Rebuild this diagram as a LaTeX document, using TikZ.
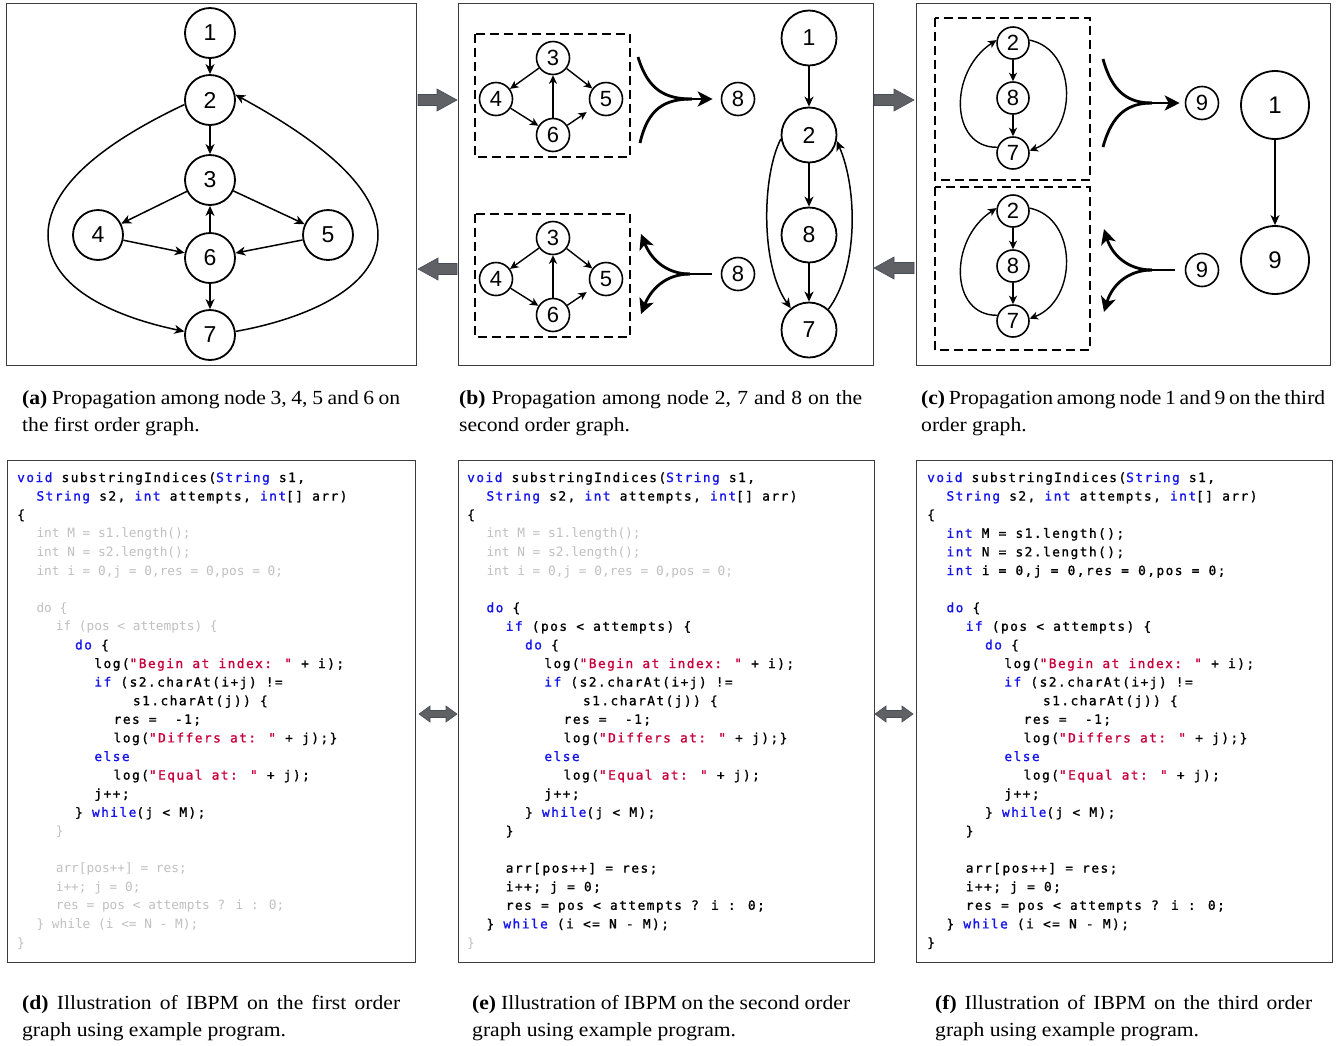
\documentclass[tikz,border=0pt]{standalone}
\usepackage{fontspec}
\setmainfont{Liberation Serif}
\newfontfamily\capfont[FakeStretch=1.08]{Liberation Serif}
\newfontfamily\digitfont{Liberation Sans}
\newfontfamily\cfN[LetterSpace=11.5,FakeBold=1.2]{DejaVu Sans Mono}
\newfontfamily\cfF{DejaVu Sans Mono}
\usetikzlibrary{arrows.meta}
\definecolor{kwblue}{RGB}{20,20,235}
\definecolor{strred}{RGB}{200,0,60}
\definecolor{fadegray}{RGB}{192,192,192}
\definecolor{arrgray}{RGB}{95,97,100}
\definecolor{arredge}{RGB}{70,76,88}
\definecolor{framecol}{RGB}{60,60,60}
\newif\iffaded
\newcommand\kw[1]{\iffaded#1\else\textcolor{kwblue}{#1}\fi}
\newcommand\st[1]{\iffaded#1\else\textcolor{strred}{#1}\fi}
\newcommand\NN{\fadedfalse\cfN\color{black}}
\newcommand\FF{\fadedtrue\cfF\color{fadegray}}
\newdimen\indentunit \indentunit=19.3pt
\newcommand\IN[1]{\hspace*{#1\indentunit}}
\newcommand\codetext[3]{%
{\NN\kw{void} substringIndices(\kw{String} s1,}\\
{\NN\IN{1}\kw{String} s2, \kw{int} attempts, \kw{int}[] arr)}\\
{\NN\{}\\
{#1\IN{1}\kw{int} M = s1.length();}\\
{#1\IN{1}\kw{int} N = s2.length();}\\
{#1\IN{1}\kw{int} i = 0,j = 0,res = 0,pos = 0;}\\
\mbox{}\\
{#2\IN{1}\kw{do} \{}\\
{#2\IN{2}\kw{if} (pos < attempts) \{}\\
{\NN\IN{3}\kw{do} \{}\\
{\NN\IN{4}log(\st{"Begin at index: "} + i);}\\
{\NN\IN{4}\kw{if} (s2.charAt(i+j) !=}\\
{\NN\IN{6}s1.charAt(j)) \{}\\
{\NN\IN{5}res =\ \ -1;}\\
{\NN\IN{5}log(\st{"Differs at: "} + j);\}}\\
{\NN\IN{4}\kw{else}}\\
{\NN\IN{5}log(\st{"Equal at: "} + j);}\\
{\NN\IN{4}j++;}\\
{\NN\IN{3}\} \kw{while}(j < M);}\\
{#2\IN{2}\}}\\
\mbox{}\\
{#2\IN{2}arr[pos++] = res;}\\
{#2\IN{2}i++; j = 0;}\\
{#2\IN{2}res = pos < attempts ? i : 0;}\\
{#2\IN{1}\} \kw{while} (i <= N - M);}\\
{#3\}}}
\newcommand\blkR[3]{\filldraw[blockarr] (#1,{#3-5.5}) -- ({#2-20},{#3-5.5}) -- ({#2-20},{#3-11}) -- (#2,#3) -- ({#2-20},{#3+11}) -- ({#2-20},{#3+5.5}) -- (#1,{#3+5.5}) -- cycle;}
\newcommand\blkL[3]{\filldraw[blockarr] (#2,{#3-5.5}) -- ({#1+20},{#3-5.5}) -- ({#1+20},{#3-11}) -- (#1,#3) -- ({#1+20},{#3+11}) -- ({#1+20},{#3+5.5}) -- (#2,{#3+5.5}) -- cycle;}
\newcommand\blkD[3]{\filldraw[blockarr] (#1,#3) -- ({#1+11},{#3-8}) -- ({#1+11},{#3-3.5}) -- ({#2-11},{#3-3.5}) -- ({#2-11},{#3-8}) -- (#2,#3) -- ({#2-11},{#3+8}) -- ({#2-11},{#3+3.5}) -- ({#1+11},{#3+3.5}) -- ({#1+11},{#3+8}) -- cycle;}
\begin{document}
\begin{tikzpicture}[x=1pt,y=-1pt,
  gn/.style={circle, draw, line width=1.8pt, minimum size=50pt, inner sep=0pt, font=\digitfont\fontsize{23}{23}\selectfont},
  sn/.style={gn, line width=1.6pt, minimum size=33pt, font=\digitfont\fontsize{22}{22}\selectfont},
  edge/.style={line width=1.5pt, -{Stealth[length=10pt,width=9pt,inset=3pt]}},
  sedge/.style={line width=1.4pt, -{Stealth[length=8.5pt,width=8pt,inset=2.5pt]}},
  mline/.style={line width=2.8pt},
  bigarr/.style={line width=2.8pt, -{Stealth[length=15pt,width=15pt,inset=4pt]}},
  dbox/.style={draw, line width=2.8pt, dash pattern=on 9pt off 5pt},
  panel/.style={draw=framecol, line width=1pt},
  blockarr/.style={fill=arrgray, draw=arredge, line width=0.6pt},
  captxt/.style={inner sep=0pt, anchor=base west, font=\capfont\fontsize{20}{24}\selectfont},
  codebox/.style={inner sep=0pt, align=left, anchor=base west, font=\fontsize{12.8}{18.6}\selectfont}]
\fill[white] (0,0) rectangle (1341,1045);
\useasboundingbox (0,0) rectangle (1341,1045);
% panel frames
\draw[panel] (6,3) rectangle (416,365);
\draw[panel] (458,3) rectangle (873,365);
\draw[panel] (916,3) rectangle (1330,365);
\draw[panel] (7,460) rectangle (415,962);
\draw[panel] (458,460) rectangle (874,962);
\draw[panel] (916,460) rectangle (1332,962);
% block arrows
\blkR{418}{457}{100}
\blkR{874}{914}{100}
\blkL{418}{457}{269}
\blkL{874}{914}{268}
\blkD{419}{457}{714}
\blkD{875}{913}{714}
% ---------- panel (a)
\node[gn] (a1) at (210,33) {1};
\node[gn] (a2) at (210,100) {2};
\node[gn] (a3) at (210,180) {3};
\node[gn] (a4) at (98,235) {4};
\node[gn] (a5) at (328,235) {5};
\node[gn] (a6) at (210,258) {6};
\node[gn] (a7) at (210,335) {7};
\coordinate (aL) at (48,235);
\coordinate (aR) at (378,235);
\draw[edge] (a1) -- (a2);
\draw[edge] (a2) -- (a3);
\draw[edge] (a3) -- (a4);
\draw[edge] (a3) -- (a5);
\draw[edge] (a4) -- (a6);
\draw[edge] (a5) -- (a6);
\draw[edge] (a6) -- (a3);
\draw[edge] (a6) -- (a7);
\draw[edge] (a2.190) .. controls (120,135) and (48,180) .. (aL) .. controls (48,290) and (120,318) .. (a7.172);
\draw[edge] (a7.8) .. controls (300,320) and (378,290) .. (aR) .. controls (378,180) and (300,130) .. (a2.12);
% ---------- panel (b)
\foreach \s/\dy in {t/0,b/180}{
\begin{scope}[shift={(0,\dy)}]
\draw[dbox] (475,34) rectangle (630,157);
\node[sn] (b3\s) at (553,58) {3};
\node[sn] (b4\s) at (496,99) {4};
\node[sn] (b5\s) at (606,99) {5};
\node[sn] (b6\s) at (553,135) {6};
\draw[sedge] (b3\s) -- (b4\s);
\draw[sedge] (b3\s) -- (b5\s);
\draw[sedge] (b4\s) -- (b6\s);
\draw[sedge] (b6\s) -- (b3\s);
\draw[sedge, shorten >=6pt] (b6\s) -- (b5\s);
\end{scope}}
\node[sn] (b8m) at (738,99) {8};
\node[sn] (b8n) at (738,274) {8};
\coordinate (bU1) at (638,57);
\coordinate (bL1) at (640,143);
\coordinate (bJ1) at (692,99);
\draw[mline] (bU1) .. controls (648,90) and (665,99) .. (bJ1);
\draw[mline] (bL1) .. controls (648,108) and (665,99) .. (bJ1);
\draw[bigarr, shorten >=8pt] (bJ1) -- (b8m);
\coordinate (bJ2) at (690,274);
\coordinate (bU2) at (641,234);
\coordinate (bL2) at (641,314);
\draw[mline, shorten <=9pt] (b8n) -- (bJ2);
\draw[bigarr] (bJ2) .. controls (666,274) and (651,259) .. (bU2);
\draw[bigarr] (bJ2) .. controls (666,274) and (651,289) .. (bL2);
\node[gn, minimum size=55pt] (b1) at (809,38) {1};
\node[gn, minimum size=55pt] (b2) at (809,135) {2};
\node[gn, minimum size=55pt] (b8) at (809,235) {8};
\node[gn, minimum size=55pt] (b7) at (809,330) {7};
\draw[edge] (b1) -- (b2);
\draw[edge] (b2) -- (b8);
\draw[edge] (b8) -- (b7);
\draw[edge] (b2.188) .. controls (762,175) and (760,265) .. (b7.130);
\draw[edge] (b7.47) .. controls (858,270) and (858,190) .. (b2.-12);
% ---------- panel (c)
\draw[dbox] (935,18) rectangle (1090,180);
\draw[dbox] (935,187) rectangle (1090,350);
\foreach \s/\dy in {t/0,b/168}{
\begin{scope}[shift={(0,\dy)}]
\node[sn, minimum size=32pt] (c2\s) at (1013,43) {2};
\node[sn, minimum size=32pt] (c8\s) at (1013,98) {8};
\node[sn, minimum size=32pt] (c7\s) at (1013,153) {7};
\draw[sedge] (c2\s) -- (c8\s);
\draw[sedge] (c8\s) -- (c7\s);
\draw[sedge] (c7\s.160) .. controls (950,148) and (948,72) .. (c2\s.170);
\draw[sedge] (c2\s.10) .. controls (1078,50) and (1078,132) .. (c7\s.8);
\end{scope}}
\node[sn] (c9m) at (1202,103) {9};
\node[sn] (c9n) at (1202,270) {9};
\coordinate (cU1) at (1103,59);
\coordinate (cL1) at (1103,147);
\coordinate (cJ1) at (1152,103);
\draw[mline] (cU1) .. controls (1112,92) and (1128,103) .. (cJ1);
\draw[mline] (cL1) .. controls (1112,114) and (1128,103) .. (cJ1);
\draw[bigarr, shorten >=5pt] (cJ1) -- (c9m);
\coordinate (cJ2) at (1152,270);
\coordinate (cU2) at (1104,229);
\coordinate (cL2) at (1104,312);
\draw[mline, shorten <=10pt] (c9n) -- (cJ2);
\draw[bigarr] (cJ2) .. controls (1128,270) and (1112,255) .. (cU2);
\draw[bigarr] (cJ2) .. controls (1128,270) and (1112,285) .. (cL2);
\node[gn, minimum size=68pt, font=\digitfont\fontsize{24}{24}\selectfont] (c1) at (1275,105) {1};
\node[gn, minimum size=68pt, font=\digitfont\fontsize{24}{24}\selectfont] (c9) at (1275,260) {9};
\draw[edge] (c1) -- (c9);
% ---------- captions top
\node[captxt] (capa1) at (22,404) {\makebox[378pt][s]{\textbf{(a)} Propagation among node 3, 4, 5 and 6 on}};
\node[captxt] (capa2) at (22,431) {the first order graph.};
\node[captxt] (capb1) at (459,404) {\makebox[403pt][s]{\textbf{(b)} Propagation among node 2, 7 and 8 on the}};
\node[captxt] (capb2) at (459,431) {second order graph.};
\node[captxt] (capc1) at (921,404) {\makebox[404pt][s]{\textbf{(c)} Propagation among node 1 and 9 on the third}};
\node[captxt] (capc2) at (921,431) {order graph.};
% ---------- code panels (anchored at the baseline of the last line)
\node[codebox] (coded) at (17,947) {\codetext{\FF}{\FF}{\FF}};
\node[codebox] (codee) at (467,947) {\codetext{\FF}{\NN}{\FF}};
\node[codebox] (codef) at (927,947) {\codetext{\NN}{\NN}{\NN}};
% ---------- captions bottom
\node[captxt] (capd1) at (22,1009) {\makebox[378pt][s]{\textbf{(d)} Illustration of IBPM on the first order}};
\node[captxt] (capd2) at (22,1036) {graph using example program.};
\node[captxt] (cape1) at (472,1009) {\makebox[378pt][s]{\textbf{(e)} Illustration of IBPM on the second order}};
\node[captxt] (cape2) at (472,1036) {graph using example program.};
\node[captxt] (capf1) at (935,1009) {\makebox[377pt][s]{\textbf{(f)} Illustration of IBPM on the third order}};
\node[captxt] (capf2) at (935,1036) {graph using example program.};
\end{tikzpicture}
\end{document}
